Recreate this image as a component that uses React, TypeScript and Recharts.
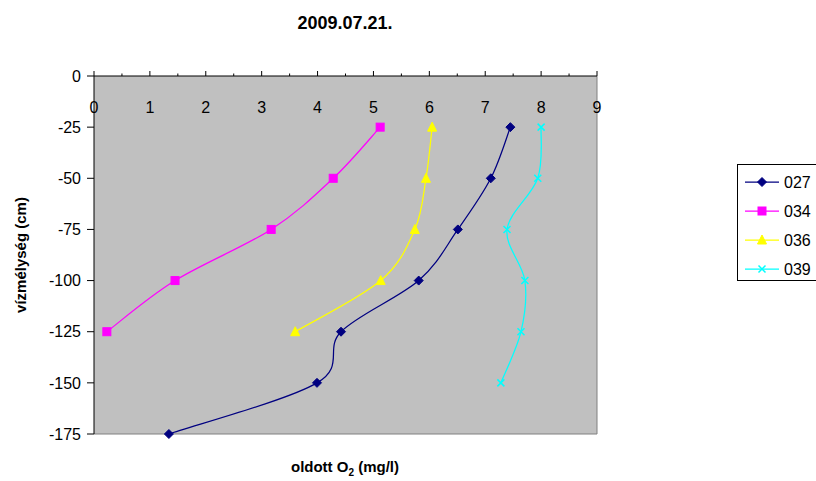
import React from "react"
import { ScatterChart, Scatter, XAxis, YAxis, CartesianGrid, ReferenceLine } from "recharts"

const depths = [-25, -50, -75, -100, -125, -150, -175]
const o2_027 = [7.45, 7.1, 6.51, 5.81, 4.42, 3.99, 1.34]
const o2_034 = [5.12, 4.28, 3.17, 1.45, 0.23]
const o2_036 = [6.05, 5.94, 5.74, 5.13, 3.6]
const o2_039 = [8.0, 7.94, 7.39, 7.71, 7.64, 7.28]

const xTicks = [0, 0.5, 1, 1.5, 2, 2.5, 3, 3.5, 4, 4.5, 5, 5.5, 6, 6.5, 7, 7.5, 8, 8.5, 9]
const yTicks = [0, -25, -50, -75, -100, -125, -150, -175]

const FONT = "'Liberation Sans', Arial, sans-serif"
const PLOT_TOP = 76

const toPoints = (vals: number[]) => vals.map((v, i) => ({ x: v, y: depths[i] }))

// Excel-like smoothed line (Catmull-Rom through the points)
const smooth = (context: any) => {
  let pts: number[][] = []
  return {
    areaStart() {},
    areaEnd() {},
    lineStart() {
      pts = []
    },
    point(x: number, y: number) {
      pts.push([+x, +y])
    },
    lineEnd() {
      if (!pts.length) return
      context.moveTo(pts[0][0], pts[0][1])
      const t = 1 / 6
      for (let i = 0; i < pts.length - 1; i++) {
        const p0 = pts[i - 1] || pts[i]
        const p1 = pts[i]
        const p2 = pts[i + 1]
        const p3 = pts[i + 2] || p2
        context.bezierCurveTo(
          p1[0] + (p2[0] - p0[0]) * t,
          p1[1] + (p2[1] - p0[1]) * t,
          p2[0] - (p3[0] - p1[0]) * t,
          p2[1] - (p3[1] - p1[1]) * t,
          p2[0],
          p2[1]
        )
      }
    },
  }
}

const Diamond = ({ cx, cy, color = "#000080" }: any) => (
  <path d={`M${cx},${cy - 4.5}L${cx + 4.5},${cy}L${cx},${cy + 4.5}L${cx - 4.5},${cy}Z`} fill={color} stroke={color} />
)
const Square = ({ cx, cy, color = "#FF00FF" }: any) => (
  <rect x={cx - 4} y={cy - 4} width={8} height={8} fill={color} stroke={color} />
)
const Triangle = ({ cx, cy, color = "#FFFF00" }: any) => (
  <path d={`M${cx},${cy - 5}L${cx + 4.5},${cy + 4}L${cx - 4.5},${cy + 4}Z`} fill={color} stroke={color} />
)
const Cross = ({ cx, cy, color = "#00FFFF" }: any) => (
  <path d={`M${cx - 3.5},${cy - 3.5}L${cx + 3.5},${cy + 3.5}M${cx - 3.5},${cy + 3.5}L${cx + 3.5},${cy - 3.5}`} stroke={color} strokeWidth={1.5} fill="none" />
)

const XTick = ({ x, payload }: any) => {
  const major = Number.isInteger(payload.value)
  return (
    <g>
      <line x1={x} x2={x} y1={PLOT_TOP} y2={PLOT_TOP - (major ? 5 : 2.5)} stroke="#000" />
      {major && (
        <text x={x} y={PLOT_TOP + 37} textAnchor="middle" fontSize={16} fontFamily={FONT} fill="#000">
          {payload.value}
        </text>
      )}
    </g>
  )
}

const series = [
  { name: "027", data: toPoints(o2_027), color: "#000080", Shape: Diamond },
  { name: "034", data: toPoints(o2_034), color: "#FF00FF", Shape: Square },
  { name: "036", data: toPoints(o2_036), color: "#FFFF00", Shape: Triangle },
  { name: "039", data: toPoints(o2_039), color: "#00FFFF", Shape: Cross },
]

export default function App() {
  return (
    <div style={{ position: "absolute", left: 0, top: 0, width: 816, height: 481, background: "#fff", fontFamily: FONT }}>
      <div style={{ position: "absolute", left: 0, width: 690, top: 13, textAlign: "center", fontSize: 18, fontWeight: "bold" }}>
        2009.07.21.
      </div>
      <ScatterChart width={816} height={481} margin={{ top: 46, right: 219, bottom: 47, left: 44 }}>
        <CartesianGrid fill="#C0C0C0" horizontal={false} vertical={false} />
        <XAxis
          type="number"
          dataKey="x"
          orientation="top"
          domain={[0, 9]}
          ticks={xTicks}
          interval={0}
          height={30}
          tickLine={false}
          axisLine={{ stroke: "#000" }}
          tick={<XTick />}
        />
        <YAxis
          type="number"
          dataKey="y"
          domain={[-175, 0]}
          ticks={yTicks}
          interval={0}
          width={50}
          tickSize={7}
          tickMargin={6}
          tickLine={{ stroke: "#000" }}
          axisLine={{ stroke: "#000" }}
          tick={{ fill: "#000", fontSize: 16, fontFamily: FONT }}
        />
        <ReferenceLine x={9} stroke="#808080" />
        <ReferenceLine y={-175} stroke="#808080" />
        {series.map((s) => (
          <Scatter
            key={s.name}
            name={s.name}
            data={s.data}
            line={{ stroke: s.color, strokeWidth: 1.25 }}
            lineType="joint"
            lineJointType={smooth as any}
            shape={<s.Shape color={s.color} />}
            isAnimationActive={false}
          />
        ))}
      </ScatterChart>
      <div
        style={{
          position: "absolute",
          left: 6,
          top: 255,
          transform: "translate(-50%, -50%) rotate(-90deg)",
          marginLeft: 14,
          fontSize: 15,
          fontWeight: "bold",
          whiteSpace: "nowrap",
        }}
      >
        vízmélység (cm)
      </div>
      <div style={{ position: "absolute", left: 0, width: 690, top: 458, textAlign: "center", fontSize: 15, fontWeight: "bold" }}>
        oldott O<sub style={{ fontSize: 10 }}>2</sub> (mg/l)
      </div>
      <svg style={{ position: "absolute", left: 737, top: 164 }} width={79} height={118}>
        <rect x={0.5} y={0.5} width={90} height={116} fill="#fff" stroke="#000" />
        {series.map((s, i) => {
          const cy = 18 + i * 29
          return (
            <g key={s.name}>
              <line x1={8} x2={42} y1={cy} y2={cy} stroke={s.color} strokeWidth={1.25} />
              <s.Shape cx={25} cy={cy} color={s.color} />
              <text x={47} y={cy + 6} fontSize={16} fontFamily={FONT} fill="#000">
                {s.name}
              </text>
            </g>
          )
        })}
      </svg>
    </div>
  )
}
